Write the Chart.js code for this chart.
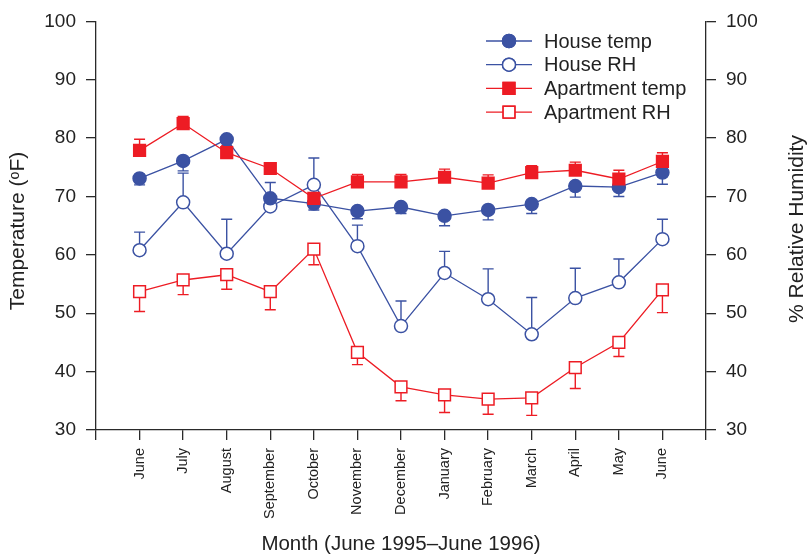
<!DOCTYPE html>
<html>
<head>
<meta charset="utf-8">
<script src="https://cdn.jsdelivr.net/npm/chart.js@4/dist/chart.umd.min.js"></script>
<style>
  html, body { margin: 0; padding: 0; background: #fff; }
  #wrap { width: 807px; height: 559px; }
</style>
</head>
<body>
<div id="wrap"><canvas id="climateChart"></canvas></div>
<script>
  // months June 1995 - June 1996
  const months = ['June', 'July', 'August', 'September', 'October', 'November',
    'December', 'January', 'February', 'March', 'April', 'May', 'June'];

  const houseTemp = [73.1, 76.1, 79.8, 69.7, 68.8, 67.5, 68.2, 66.7, 67.7, 68.7, 71.8, 71.6, 74.1];
  const houseRH = [60.8, 69.0, 60.2, 68.3, 72.0, 61.5, 47.8, 56.9, 52.4, 46.4, 52.6, 55.3, 62.7];
  const aptTemp = [77.9, 82.5, 77.5, 74.8, 69.7, 72.5, 72.5, 73.3, 72.3, 74.1, 74.5, 73.0, 76.0];
  const aptRH = [53.7, 55.7, 56.6, 53.7, 61.0, 43.3, 37.4, 36.0, 35.3, 35.5, 40.7, 45.0, 54.0];

  // where each error bar ends (null = no bar)
  const houseTempErr = [72.0, 74.4, null, null, 67.7, 66.2, 67.1, 65.0, 66.0, 67.1, 69.9, 70.0, 72.1];
  const houseRHErr = [63.9, 74.0, 66.1, 72.4, 76.6, 65.1, 52.1, 60.6, 57.6, 52.7, 57.7, 59.3, 66.1];
  const aptTempErr = [79.8, 83.7, 78.7, null, null, 73.8, 73.8, 74.7, 73.7, 75.3, 75.9, 74.5, 77.5];
  const aptRHErr = [50.3, 53.2, 54.1, 50.6, 58.3, 41.2, 35.0, 33.0, 32.7, 32.5, 37.1, 42.6, 50.1];

  const yTicks = [30, 40, 50, 60, 70, 80, 90, 100];

  const blue = '#3b52a3';
  const red = '#ed1c24';
  const axisColor = '#2a2a2a';
  const textColor = '#222';
  const fontFamily = '"Liberation Sans", Arial, Helvetica, sans-serif';

  const pts = arr => arr.map((v, i) => ({ x: i, y: v }));

  const datasets = [
    { label: 'House temp', data: pts(houseTemp), errs: houseTempErr, yAxisID: 'y',
      borderColor: blue, backgroundColor: blue, pointBackgroundColor: blue,
      pointStyle: 'circle', pointRadius: 6.5, order: 2 },
    { label: 'House RH', data: pts(houseRH), errs: houseRHErr, yAxisID: 'y1',
      borderColor: blue, backgroundColor: blue, pointBackgroundColor: '#fff',
      pointStyle: 'circle', pointRadius: 6.5, order: 4 },
    { label: 'Apartment temp', data: pts(aptTemp), errs: aptTempErr, yAxisID: 'y',
      borderColor: red, backgroundColor: red, pointBackgroundColor: red,
      pointStyle: 'rect', pointRadius: 8.3, order: 1 },
    { label: 'Apartment RH', data: pts(aptRH), errs: aptRHErr, yAxisID: 'y1',
      borderColor: red, backgroundColor: red, pointBackgroundColor: '#fff',
      pointStyle: 'rect', pointRadius: 8.3, order: 3 }
  ];
  datasets.forEach(d => {
    d.borderWidth = 1.3;
    d.pointBorderWidth = 1.5;
    d.pointBorderColor = d.borderColor;
    d.tension = 0;
    d.fill = false;
  });

  // one-sided error bars, drawn under the markers
  const errorBars = {
    id: 'errorBars',
    beforeDatasetsDraw(chart) {
      const ctx = chart.ctx;
      chart.data.datasets.forEach((ds, i) => {
        const meta = chart.getDatasetMeta(i);
        const scale = chart.scales[ds.yAxisID];
        ctx.save();
        ctx.strokeStyle = ds.borderColor;
        ctx.lineWidth = 1.4;
        ds.errs.forEach((e, j) => {
          if (e === null) return;
          const p = meta.data[j];
          const ye = scale.getPixelForValue(e);
          ctx.beginPath();
          ctx.moveTo(p.x, p.y);
          ctx.lineTo(p.x, ye);
          ctx.moveTo(p.x - 5.5, ye);
          ctx.lineTo(p.x + 5.5, ye);
          ctx.stroke();
        });
        ctx.restore();
      });
    }
  };

  // legend with line through the marker + both y axis titles
  const extras = {
    id: 'extras',
    afterDraw(chart) {
      const ctx = chart.ctx;
      ctx.save();
      ctx.font = '20px ' + fontFamily;
      ctx.fillStyle = textColor;
      ctx.textBaseline = 'middle';
      chart.data.datasets.forEach((ds, i) => {
        const y = 41 + i * 23.7;
        ctx.strokeStyle = ds.borderColor;
        ctx.lineWidth = 1.3;
        ctx.beginPath();
        ctx.moveTo(486, y);
        ctx.lineTo(532, y);
        ctx.stroke();
        ctx.fillStyle = ds.pointBackgroundColor;
        ctx.lineWidth = 1.5;
        Chart.helpers.drawPoint(ctx, { pointStyle: ds.pointStyle, radius: ds.pointRadius, borderWidth: 1.5 }, 509, y);
        ctx.fill();
        ctx.stroke();
        ctx.fillStyle = textColor;
        ctx.textAlign = 'left';
        ctx.fillText(ds.label, 544, y + 1);
      });
      ctx.font = '21px ' + fontFamily;
      ctx.textAlign = 'center';
      // left title
      ctx.save();
      ctx.translate(18, 231);
      ctx.rotate(-Math.PI / 2);
      ctx.fillText('Temperature (\u1D52F)', 0, 0);
      ctx.restore();
      // right title, reading bottom to top
      ctx.translate(797, 229);
      ctx.rotate(-Math.PI / 2);
      ctx.fillText('% Relative Humidity', 0, 0);
      ctx.restore();
    }
  };

  const tickFont = { family: fontFamily, size: 19 };
  const gridOpts = { drawOnChartArea: false, drawTicks: true, tickLength: 10, color: axisColor, lineWidth: 1.3 };
  const borderOpts = { display: true, color: axisColor, width: 1.3 };

  new Chart(document.getElementById('climateChart').getContext('2d'), {
    type: 'line',
    data: { datasets },
    options: {
      responsive: true,
      maintainAspectRatio: false,
      animation: false,
      layout: { padding: { top: 13, left: 0, right: 0, bottom: 0 } },
      plugins: { legend: { display: false }, tooltip: { enabled: false } },
      scales: {
        x: {
          type: 'linear', min: -1, max: 13,
          grid: gridOpts, border: borderOpts,
          afterBuildTicks: s => { s.ticks = []; for (let v = -1; v <= 13; v++) s.ticks.push({ value: v }); },
          afterFit: s => { s.height = 129; },
          ticks: {
            autoSkip: false, minRotation: 90, maxRotation: 90, padding: 8,
            color: textColor, font: { family: fontFamily, size: 14.5 },
            callback: v => months[v] || ''
          },
          title: { display: true, text: 'Month (June 1995\u2013June 1996)', color: textColor,
                   font: { family: fontFamily, size: 20.5 }, padding: { bottom: 2 } }
        },
        y: {
          position: 'left', min: 30, max: 100,
          grid: gridOpts, border: borderOpts,
          afterBuildTicks: s => { s.ticks = yTicks.map(v => ({ value: v })); },
          afterFit: s => { s.width = 96; },
          ticks: { color: textColor, font: tickFont, padding: 10 }
        },
        y1: {
          position: 'right', min: 30, max: 100,
          grid: gridOpts, border: borderOpts,
          afterBuildTicks: s => { s.ticks = yTicks.map(v => ({ value: v })); },
          afterFit: s => { s.width = 101; },
          ticks: { color: textColor, font: tickFont, padding: 10 }
        }
      }
    },
    plugins: [errorBars, extras]
  });
</script>
</body>
</html>
